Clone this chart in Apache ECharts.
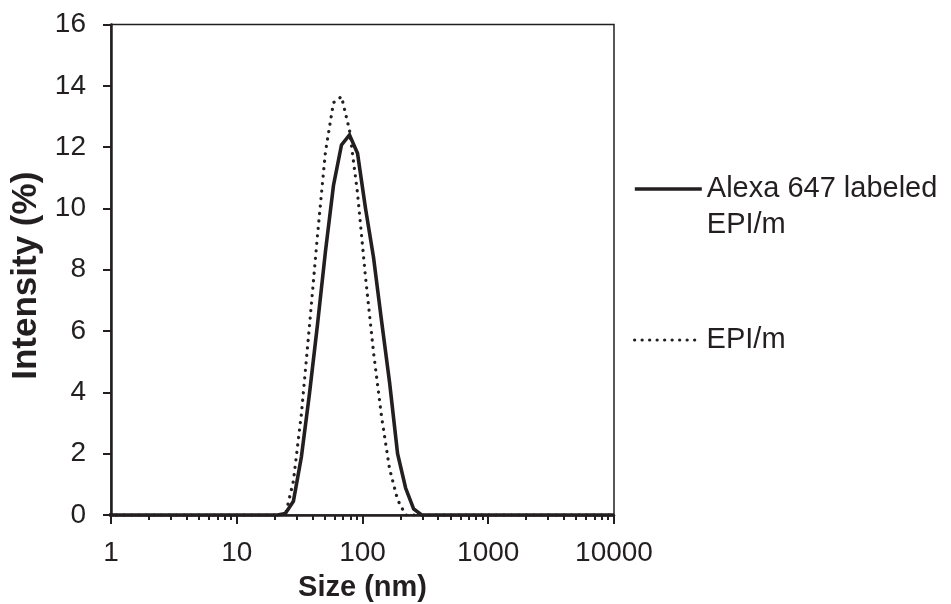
<!DOCTYPE html>
<html>
<head>
<meta charset="utf-8">
<script src="https://cdn.jsdelivr.net/npm/echarts@6/dist/echarts.min.js"></script>
<style>html,body{margin:0;padding:0;background:#fff;}#c{width:951px;height:604px;}</style>
</head>
<body>
<div id="c"></div>
<script>
// Size bins (nm)
const sizes = [0.9649, 1.117, 1.294, 1.499, 1.736, 2.01, 2.328, 2.696, 3.122, 3.615, 4.187, 4.849, 5.615, 6.503, 7.531, 8.721, 10.1, 11.7, 13.54, 15.69, 18.17, 21.04, 24.36, 28.21, 32.67, 37.84, 43.82, 50.75, 58.77, 68.06, 78.82, 91.28, 105.7, 122.4, 141.8, 164.2, 190.1, 220.2, 255.0, 295.3, 342.0, 396.1, 458.7, 531.2, 615.1, 712.4, 825.0, 955.4, 1106, 1281, 1484, 1718, 1990, 2305, 2669, 3091, 3580, 4145, 4801, 5560, 6439, 7456, 8635, 10000];
// Intensity (%) — Alexa 647 labeled EPI/m
const alexaValues = [0,0,0,0,0,0,0,0,0,0,0,0,0,0,0,0,0,0,0,0,0, 0, 0.05, 0.45, 1.9, 3.95, 6.2, 8.6, 10.75, 12.07, 12.4, 11.8, 10.0, 8.4, 6.33, 4.32, 2.0, 0.88, 0.2, 0, 0,0,0,0,0,0,0,0,0,0,0,0,0,0,0,0,0,0,0,0,0,0,0,0];
// Intensity (%) — EPI/m
const epiValues = [0,0,0,0,0,0,0,0,0,0,0,0,0,0,0,0,0,0,0,0,0, 0, 0, 1.1, 3.3, 6.15, 9.1, 11.85, 13.45, 13.65, 12.55, 10.5, 7.75, 5.3, 3.2, 1.5, 0.5, 0, 0, 0, 0,0,0,0,0,0,0,0,0,0,0,0,0,0,0,0,0,0,0,0,0,0,0,0];
const seriesNames = ['Alexa 647 labeled EPI/m', 'EPI/m'];
const legendLines = ['Alexa 647 labeled', 'EPI/m'];
const xTitle = 'Size (nm)';
const yTitle = 'Intensity (%)';
const minorTickValues = [2,3,4,5,6,7,8,9,20,30,40,50,60,70,80,90,200,300,400,500,600,700,800,900,2000,3000,4000,5000,6000,7000,8000,9000];

const ink = '#231f20';
const font = 'Liberation Sans, Arial, Helvetica, sans-serif';
const chart = echarts.init(document.getElementById('c'), null, {renderer: 'canvas'});
const toPairs = vals => sizes.map((s, i) => [s, vals[i]]);
const solidStyle = {color: ink, width: 3.6, type: 'solid', join: 'miter'};
const dotStyle = {color: ink, width: 3.2, type: [0.1, 7.4], cap: 'round'};

chart.setOption({
  animation: false,
  backgroundColor: '#fff',
  grid: {left: 111, top: 24.5, width: 503, height: 490.5, outerBoundsMode: 'none', containLabel: false,
         show: true, borderColor: ink, borderWidth: 1.5, backgroundColor: 'transparent'},
  legend: [
    {
      data: [seriesNames[0]], left: 628, top: 94, orient: 'vertical',
      itemWidth: 67, itemHeight: 14, itemGap: 0,
      itemStyle: {opacity: 0},
      lineStyle: solidStyle,
      formatter: () => [' ', ' ', legendLines[0], legendLines[1], ' '].join('\n'),
      textStyle: {color: ink, fontSize: 29, fontFamily: font, lineHeight: 36}
    },
    {
      data: [seriesNames[1]], left: 628, top: 317, orient: 'vertical',
      itemWidth: 67, itemHeight: 14,
      itemStyle: {opacity: 0},
      lineStyle: dotStyle,
      textStyle: {color: ink, fontSize: 29, fontFamily: font, lineHeight: 36}
    }
  ],
  xAxis: [
    {
      type: 'log', logBase: 10, min: 1, max: 10000,
      name: xTitle, nameLocation: 'middle', nameGap: 58,
      nameTextStyle: {color: ink, fontSize: 29, fontWeight: 'bold', fontFamily: font},
      axisLine: {show: true, onZero: false, lineStyle: {color: ink, width: 2.5}},
      axisTick: {show: true, inside: false, length: 9, lineStyle: {color: ink, width: 2}},
      axisLabel: {color: ink, fontSize: 28, fontFamily: font, margin: 24, formatter: v => String(v)},
      splitLine: {show: false}
    },
    {
      type: 'log', logBase: 10, min: 1, max: 10000, position: 'bottom',
      axisLine: {show: false},
      axisTick: {show: true, inside: false, length: 5, customValues: minorTickValues, lineStyle: {color: ink, width: 2}},
      axisLabel: {show: false},
      splitLine: {show: false}
    }
  ],
  yAxis: {
    type: 'value', min: 0, max: 16, interval: 2,
    name: yTitle, nameLocation: 'middle', nameGap: 64,
    nameTextStyle: {color: ink, fontSize: 35, fontWeight: 'bold', fontFamily: font, padding: [0, 12, 0, 0]},
    axisLine: {show: true, lineStyle: {color: ink, width: 2.5}},
    axisTick: {show: true, inside: false, length: 8, lineStyle: {color: ink, width: 2}},
    axisLabel: {color: ink, fontSize: 28, fontFamily: font, margin: 25},
    splitLine: {show: false}
  },
  series: [
    {
      name: seriesNames[0], type: 'line', data: toPairs(alexaValues),
      showSymbol: false, symbol: 'none', z: 3,
      lineStyle: solidStyle,
      itemStyle: {color: ink}
    },
    {
      name: seriesNames[1], type: 'line', data: toPairs(epiValues),
      showSymbol: false, symbol: 'none', z: 2,
      lineStyle: dotStyle,
      itemStyle: {color: ink}
    }
  ]
});
</script>
</body>
</html>
